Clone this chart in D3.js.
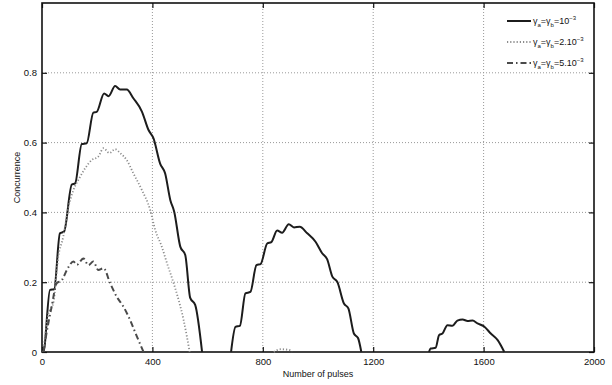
<!DOCTYPE html>
<html>
<head>
<meta charset="utf-8">
<script src="https://cdn.jsdelivr.net/npm/d3@7"></script>
<style>
  body { margin: 0; background: #fff; }
  text { font-family: "Liberation Sans", Arial, sans-serif; fill: #111; }
</style>
</head>
<body>
<div id="chart"></div>
<script>
// gamma = 1e-3 (solid), three humps
var solid = [
  [[0,0],[5,0],[29,0.178],[44,0.18],[65,0.34],[80,0.345],[108,0.48],[120,0.483],[144,0.596],[162,0.598],
   [186,0.686],[198,0.688],[225,0.741],[241,0.733],[265,0.762],[283,0.752],[307,0.752],[331,0.727],
   [362,0.689],[386,0.636],[404,0.612],[428,0.54],[446,0.512],[465,0.435],[479,0.402],[501,0.302],
   [519,0.278],[537,0.155],[555,0.135],[580,0]],
  [[685,0],[701,0.072],[717,0.075],[737,0.168],[755,0.172],[777,0.249],[792,0.252],[816,0.311],[831,0.315],
   [852,0.348],[870,0.342],[894,0.366],[913,0.357],[934,0.359],[961,0.34],[991,0.316],[1015,0.283],
   [1033,0.266],[1052,0.216],[1070,0.201],[1094,0.139],[1110,0.125],[1130,0.053],[1145,0.04],[1157,0]],
  [[1402,0],[1408,0.01],[1426,0.012],[1439,0.049],[1451,0.053],[1469,0.077],[1487,0.075],[1505,0.09],
   [1524,0.093],[1542,0.089],[1560,0.09],[1578,0.082],[1602,0.073],[1626,0.053],[1651,0.034],[1675,0]]
];
// gamma = 2e-3 (dotted)
var dotted = [
  [[5,0],[23,0.11],[41,0.14],[59,0.273],[77,0.33],[96,0.416],[114,0.464],[138,0.502],[156,0.526],
   [180,0.55],[204,0.56],[223,0.584],[244,0.57],[265,0.581],[283,0.57],[307,0.55],[331,0.512],
   [362,0.464],[392,0.407],[410,0.35],[434,0.302],[453,0.254],[477,0.197],[495,0.149],[513,0.092],
   [525,0.044],[535,0]],
  [[840,0],[865,0.008],[895,0.006],[905,0]]
];
// gamma = 5e-3 (dash-dot)
var dashdot = [
  [[5,0],[23,0.083],[35,0.13],[53,0.197],[72,0.206],[90,0.235],[114,0.259],[126,0.25],[150,0.268],
   [168,0.249],[186,0.259],[204,0.235],[223,0.24],[247,0.197],[271,0.158],[295,0.13],[319,0.092],
   [344,0.044],[368,0]]
];
var xTicks = [0, 400, 800, 1200, 1600, 2000];
var yTicks = [0, 0.2, 0.4, 0.6, 0.8];
var legendLabels = ["10", "2.10", "5.10"];

var W = 612, H = 385,
    pL = 42, pR = 594, pT = 3, pB = 352;

var svg = d3.select("#chart").append("svg")
    .attr("width", W).attr("height", H);

var x = d3.scaleLinear().domain([0, 2000]).range([pL, pR]),
    y = d3.scaleLinear().domain([0, 1]).range([pB, pT]);

// grid
svg.append("g").selectAll("line")
    .data(xTicks.slice(1, -1))
  .enter().append("line")
    .attr("x1", d => x(d)).attr("x2", d => x(d))
    .attr("y1", pT).attr("y2", pB)
    .attr("stroke", "#999").attr("stroke-width", 1).attr("stroke-dasharray", "1,2");
svg.append("g").selectAll("line")
    .data(yTicks.slice(1))
  .enter().append("line")
    .attr("x1", pL).attr("x2", pR)
    .attr("y1", d => y(d)).attr("y2", d => y(d))
    .attr("stroke", "#999").attr("stroke-width", 1).attr("stroke-dasharray", "1,2");

// axes (ticks inward)
svg.append("g").attr("transform", `translate(0,${pB})`)
    .call(d3.axisBottom(x).tickValues(xTicks).tickSizeInner(-5).tickSizeOuter(0).tickPadding(6).tickFormat(d3.format("d")));
svg.append("g").attr("transform", `translate(${pL},0)`)
    .call(d3.axisLeft(y).tickValues(yTicks).tickSizeInner(-5).tickSizeOuter(0).tickPadding(5).tickFormat(d => d === 0 ? "0" : d3.format(".1f")(d)));
svg.append("g").attr("transform", `translate(0,${pT})`)
    .call(d3.axisTop(x).tickValues(xTicks).tickSizeInner(-5).tickSizeOuter(0).tickFormat(""));
svg.append("g").attr("transform", `translate(${pR},0)`)
    .call(d3.axisRight(y).tickValues(yTicks).tickSizeInner(-5).tickSizeOuter(0).tickFormat(""));
svg.selectAll(".domain").remove();
svg.selectAll(".tick line").attr("stroke", "#111").attr("stroke-width", 1.2);
svg.selectAll(".tick text").attr("font-size", 9.5).attr("fill", "#111")
    .style("font-family", "'Liberation Sans', Arial, sans-serif");

// frame
svg.append("rect")
    .attr("x", pL).attr("y", pT).attr("width", pR - pL).attr("height", pB - pT)
    .attr("fill", "none").attr("stroke", "#111").attr("stroke-width", 1.6);

var line = d3.line().x(d => x(d[0])).y(d => y(d[1])).curve(d3.curveMonotoneX);

var styles = [
  { data: solid, stroke: "#1c1c1c", width: 2, dash: null },
  { data: dotted, stroke: "#8c8c8c", width: 1.8, dash: "1.2,2" },
  { data: dashdot, stroke: "#4a4a4a", width: 2, dash: "6,3,1.5,3" }
];

styles.forEach(function (s) {
  svg.append("g").selectAll("path")
      .data(s.data)
    .enter().append("path")
      .attr("d", line)
      .attr("fill", "none")
      .attr("stroke", s.stroke)
      .attr("stroke-width", s.width)
      .attr("stroke-dasharray", s.dash)
      .attr("stroke-linejoin", "round");
});

// axis titles
svg.append("text")
    .attr("x", (pL + pR) / 2).attr("y", 377)
    .attr("text-anchor", "middle").attr("font-size", 9)
    .text("Number of pulses");
svg.append("text")
    .attr("transform", `translate(20,${(pT + pB) / 2}) rotate(-90)`)
    .attr("text-anchor", "middle").attr("font-size", 9)
    .text("Concurrence");

// legend
var lg = svg.append("g").selectAll("g")
    .data(styles)
  .enter().append("g")
    .attr("transform", (d, i) => `translate(0,${[21, 42, 63][i]})`);
lg.append("line")
    .attr("x1", 507).attr("x2", 531)
    .attr("stroke", d => d.stroke).attr("stroke-width", d => d.width)
    .attr("stroke-dasharray", d => d.dash);
var lt = lg.append("text").attr("x", 533).attr("y", 3).attr("font-size", 9);
lt.append("tspan").text("γ");
lt.append("tspan").attr("font-size", 6).attr("dy", 3).text("a");
lt.append("tspan").attr("dy", -3).text("=γ");
lt.append("tspan").attr("font-size", 6).attr("dy", 3).text("b");
lt.append("tspan").attr("dy", -3).text((d, i) => "=" + legendLabels[i]);
lt.append("tspan").attr("font-size", 6).attr("dy", -4).text("−3");
</script>
</body>
</html>
